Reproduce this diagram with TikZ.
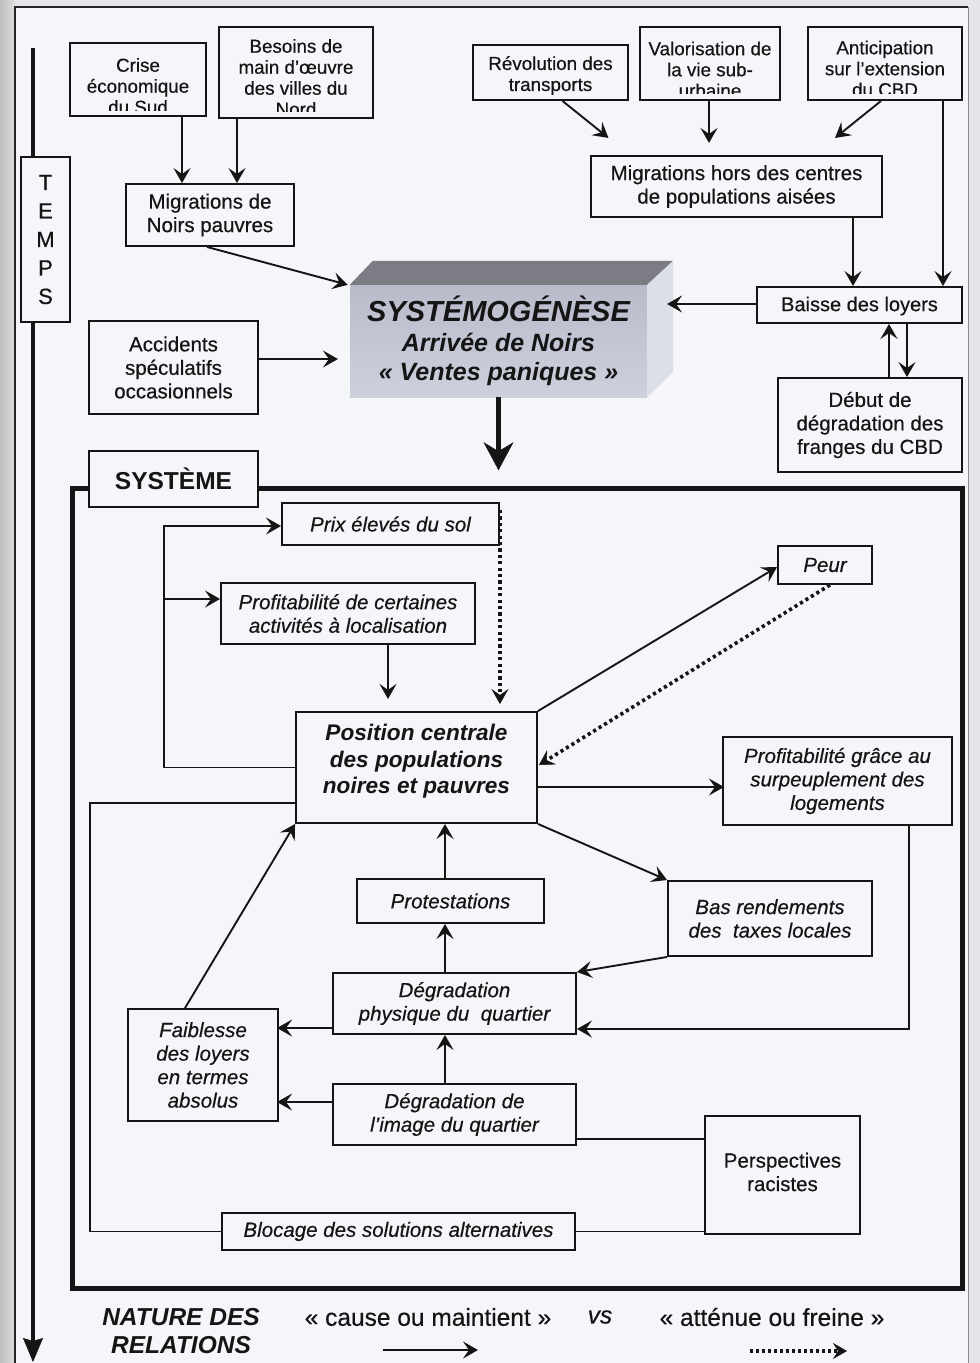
\documentclass[tikz,border=0pt]{standalone}
\usepackage{fontspec}
\setmainfont{Liberation Sans}[UprightFeatures={FakeBold=0.5}, ItalicFeatures={FakeBold=0.5}]
\usetikzlibrary{arrows.meta}
\definecolor{pagecol}{HTML}{F5F6FA}
\definecolor{outercol}{HTML}{E6E6EA}
\definecolor{stripdark}{HTML}{BEBEC0}
\definecolor{striplight}{HTML}{DEDEE0}
\definecolor{ink}{HTML}{151515}
\definecolor{sysfronttop}{HTML}{B9BBCB}
\definecolor{sysfrontbot}{HTML}{CDD0DC}
\definecolor{systopcol}{HTML}{7C7D84}
\definecolor{syssidecol}{HTML}{DDDFE7}
\begin{document}
\begin{tikzpicture}[x=1pt,y=-1pt,
  box/.style={draw=ink, line width=1.9pt, fill=pagecol, inner sep=0pt, align=center, text=ink},
  tbox/.style={box, font=\fontsize{20.5}{23.5}\selectfont},
  ibox/.style={box, font=\itshape\fontsize{20.5}{23.5}\selectfont},
  clipt/.style={inner sep=0pt, align=center, text=ink, font=\fontsize{18.8}{21}\selectfont},
  arr/.style={draw=ink, line width=1.9pt, -{Stealth[length=15pt,width=17pt,inset=6pt]}},
  dotarr/.style={draw=ink, line width=3.6pt, dash pattern=on 3.2pt off 3.2pt, -{Stealth[length=15pt,width=17pt,inset=6pt,line width=0.5pt]}},
  lin/.style={draw=ink, line width=1.8pt}]
\useasboundingbox (0,0) rectangle (980,1363);
% page background
\fill[outercol] (0,0) rectangle (980,1363);
\shade[left color=stripdark, right color=striplight] (0,0) rectangle (15,1363);
\fill[pagecol] (15,7) rectangle (968,1363);
\draw[black!85, line width=1.2pt] (15,1363) -- (15,7) -- (968,7);
\draw[black!45, line width=0.8pt] (968,7) -- (968,1363);

% time axis
\coordinate (ttop) at (33,48);
\coordinate (tbot) at (33,1362);
\draw[ink, line width=4.5pt, -{Stealth[length=24pt,width=20pt,inset=3pt,line width=0.5pt]}] (ttop) -- (tbot);
\node[box, minimum width=49pt, minimum height=165pt, font=\fontsize{22}{28.5}\selectfont] (temps) at (45.5,239.5) {T\\E\\M\\P\\S};

% system frame
\draw[ink, line width=5pt] (72,488) rectangle (962,1288);

% top left
\node[box, minimum width=136pt, minimum height=73pt,
  path picture={\clip ([yshift=6pt]path picture bounding box.south west) rectangle (path picture bounding box.north east);
    \node[clipt] (criseT) at ([yshift=-6.5pt]path picture bounding box.center) {Crise\\économique\\du Sud};}] (crise) at (138,79.5) {};
\node[box, minimum width=154pt, minimum height=91pt,
  path picture={\clip ([yshift=7pt]path picture bounding box.south west) rectangle (path picture bounding box.north east);
    \node[clipt] (besoinsT) at ([yshift=-5pt]path picture bounding box.center) {Besoins de\\main d'œuvre\\des villes du\\Nord};}] (besoins) at (296,72.5) {};
\node[tbox, minimum width=168pt, minimum height=62pt] (migNoirs) at (210,215) {Migrations de\\Noirs pauvres};

% top right
\node[box, minimum width=155pt, minimum height=55pt,
  path picture={\clip ([yshift=3pt]path picture bounding box.south west) rectangle (path picture bounding box.north east);
    \node[clipt] (revT) at ([yshift=-3pt]path picture bounding box.center) {Révolution des\\transports};}] (rev) at (550.5,72.5) {};
\node[box, minimum width=140pt, minimum height=73pt,
  path picture={\clip ([yshift=7pt]path picture bounding box.south west) rectangle (path picture bounding box.north east);
    \node[clipt] (valoT) at ([yshift=-6pt]path picture bounding box.center) {Valorisation de\\la vie sub-\\urbaine};}] (valo) at (710,63.5) {};
\node[box, minimum width=154pt, minimum height=73pt,
  path picture={\clip ([yshift=7pt]path picture bounding box.south west) rectangle (path picture bounding box.north east);
    \node[clipt] (anticT) at ([yshift=-5pt]path picture bounding box.center) {Anticipation\\sur l'extension\\du CBD};}] (antic) at (885,63.5) {};
\node[tbox, minimum width=291pt, minimum height=61pt] (migHors) at (736.5,186.5) {Migrations hors des centres\\de populations aisées};
\node[box, minimum width=205pt, minimum height=36pt,
  path picture={\clip ([yshift=4pt]path picture bounding box.south west) rectangle (path picture bounding box.north east);
    \node[inner sep=0pt, text=ink, font=\fontsize{20}{21}\selectfont] (baisseT) at ([yshift=-1pt]path picture bounding box.center) {Baisse des loyers};}] (baisse) at (859.5,305) {};
\node[tbox, minimum width=184pt, minimum height=94pt] (debut) at (870,425) {Début de\\dégradation des\\franges du CBD};
\node[tbox, minimum width=169pt, minimum height=93pt] (accidents) at (173.5,367.5) {Accidents\\spéculatifs\\occasionnels};

% systemogenese block
\node[inner sep=0pt, top color=sysfronttop, bottom color=sysfrontbot, minimum width=297pt, minimum height=112pt,
  align=center, text=ink, font=\bfseries\itshape\fontsize{25}{29.5}\selectfont] (sysfront) at (498.5,341)
  {{\fontsize{29}{29.5}\selectfont SYSTÉMOGÉNÈSE}\\Arrivée de Noirs\\« Ventes paniques »};
\fill[systopcol] (sysfront.north west) -- ++(23,-24) -- ([xshift=26pt,yshift=24pt]sysfront.north east) -- (sysfront.north east) -- cycle;
\fill[syssidecol] (sysfront.north east) -- ++(26,-24) -- ++(0,111) -- (sysfront.south east) -- cycle;

% SYSTEME label
\node[box, minimum width=169pt, minimum height=56pt, font=\bfseries\fontsize{24.5}{26}\selectfont] (systeme) at (173.5,479) {SYSTÈME};

% inside the system
\node[ibox, minimum width=217pt, minimum height=42pt] (prix) at (390.5,524) {Prix élevés du sol};
\node[ibox, minimum width=254pt, minimum height=61pt] (profCert) at (348,613.5) {Profitabilité de certaines\\activités à localisation};
\node[box, minimum width=241pt, minimum height=111pt,
  path picture={\node[inner sep=0pt, align=center, text=ink, font=\bfseries\itshape\fontsize{22.6}{26.5}\selectfont] (positionT) at ([yshift=6pt]path picture bounding box.center) {Position centrale\\des populations\\noires et pauvres};}] (position) at (416.5,767.5) {};
\node[ibox, minimum width=94pt, minimum height=38pt] (peur) at (825,565) {Peur};
\node[ibox, minimum width=229pt, minimum height=88pt] (profGrace) at (837.5,781) {Profitabilité grâce au\\surpeuplement des\\logements};
\node[ibox, minimum width=187pt, minimum height=44pt] (protest) at (450.5,901) {Protestations};
\node[ibox, minimum width=204pt, minimum height=75pt] (basRend) at (770,918.5) {Bas rendements\\des\ \ taxes locales};
\node[ibox, minimum width=243pt, minimum height=61pt] (degPhys) at (454.5,1003.5) {Dégradation\\physique du\ \ quartier};
\node[ibox, minimum width=150pt, minimum height=112pt] (faiblesse) at (203,1065) {Faiblesse\\des loyers\\en termes\\absolus};
\node[ibox, minimum width=243pt, minimum height=61pt] (degImage) at (454.5,1114.5) {Dégradation de\\l'image du quartier};
\node[box, minimum width=155pt, minimum height=118pt,
  path picture={\node[inner sep=0pt, align=center, text=ink, font=\fontsize{20.5}{23.5}\selectfont] (perspT) at ([yshift=3pt]path picture bounding box.center) {Perspectives\\racistes};}] (perspectives) at (782.5,1175) {};
\node[ibox, minimum width=353pt, minimum height=37pt] (blocage) at (398.5,1231.5) {Blocage des solutions alternatives};

% legend
\node[inner sep=0pt, align=center, text=ink, font=\bfseries\itshape\fontsize{24.5}{28}\selectfont] (nature) at (181,1331) {NATURE DES\\RELATIONS};
\node[inner sep=0pt, text=ink, font=\fontsize{24.5}{28}\selectfont] (cause) at (428,1317) {« cause ou maintient »};
\node[inner sep=0pt, text=ink, font=\itshape\fontsize{24.5}{28}\selectfont] (vs) at (600,1317) {vs};
\node[inner sep=0pt, text=ink, font=\fontsize{24.5}{28}\selectfont] (attenue) at (772,1317) {« atténue ou freine »};
\coordinate (lgA) at (383,1350);
\coordinate (lgB) at (478,1350);
\coordinate (lgC) at (750,1351);
\coordinate (lgD) at (847,1351);
\draw[arr] (lgA) -- (lgB);
\draw[draw=ink, line width=3.2pt, dash pattern=on 3pt off 3pt, -{Stealth[length=14pt,width=16pt,inset=5pt,line width=0.5pt]}] (lgC) -- (lgD);

% connectors: genesis
\draw[arr] ([xshift=44pt]crise.south) -- ([xshift=-28pt]migNoirs.north);
\draw[arr] ([xshift=-59pt]besoins.south) -- ([xshift=27pt]migNoirs.north);
\draw[arr] ([xshift=-3pt]migNoirs.south) -- ([xshift=-2pt]sysfront.north west);
\draw[arr] ([yshift=8.5pt]accidents.east) -- ++(79,0);
\draw[arr] ([xshift=12pt]rev.south) -- ++(46,37);
\draw[arr] ([xshift=-1pt]valo.south) -- ++(0,42);
\draw[arr] ([xshift=-4pt]antic.south) -- ++(-46,37);
\draw[arr] ([xshift=58pt]antic.south) -- ([xshift=83.5pt]baisse.north);
\draw[arr] ([xshift=116.5pt]migHors.south) -- ([xshift=-6.5pt]baisse.north);
\draw[arr] ([yshift=1pt]baisse.west) -- ++(-89,0);
\draw[arr] ([xshift=19pt]debut.north) -- ([xshift=29.5pt]baisse.south);
\draw[arr] ([xshift=47.5pt]baisse.south) -- ([xshift=37pt]debut.north);
\draw[ink, line width=5pt, -{Stealth[length=28pt,width=30pt,inset=9pt,line width=0.5pt]}] (sysfront.south) -- ++(0,73);

% connectors: system
\coordinate (lk) at (165,599);
\draw[arr] (position.west) -- ++(-131,0) |- ([yshift=-2pt]prix.west);
\draw[arr] (lk) -- (lk -| profCert.west);
\draw[arr] ([xshift=40pt]profCert.south) -- ++(0,54);
\draw[dotarr] ([yshift=14pt]prix.east) -- ++(0,194);
\draw[arr] (position.north east) -- ([yshift=-2pt]peur.west);
\draw[dotarr] ([xshift=5pt]peur.south) -- ([yshift=2.5pt,xshift=1pt]position.east);
\draw[arr] ([yshift=-19.5pt]position.east) -- ++(186,0);
\draw[arr] (position.south east) -- (basRend.north west);
\draw[arr] (basRend.south west) -- (degPhys.north east);
\draw[arr] ([xshift=71.5pt]profGrace.south) |- ([yshift=-25.5pt]degPhys.east);
\draw[arr] ([xshift=-5.5pt]protest.north) -- ([xshift=28.5pt]position.south);
\draw[arr] ([xshift=-9.5pt]degPhys.north) -- ([xshift=-5.5pt]protest.south);
\draw[arr] ([xshift=-9.5pt]degImage.north) -- ([xshift=-9.5pt]degPhys.south);
\draw[arr] ([yshift=-24.5pt]degPhys.west) -- ++(-55,0);
\draw[arr] ([yshift=12.5pt]degImage.west) -- ++(-55,0);
\draw[arr] ([xshift=-18pt]faiblesse.north) -- (position.south west);
\draw[lin] ([yshift=-35.5pt]position.west) -- ++(-205,0) |- (blocage.west);
\draw[lin] (blocage.east) -- (blocage.east -| perspectives.west);
\draw[lin] ([yshift=-24.5pt]degImage.east) -- ([yshift=-24.5pt]degImage.east -| perspectives.west);
\end{tikzpicture}
\end{document}
